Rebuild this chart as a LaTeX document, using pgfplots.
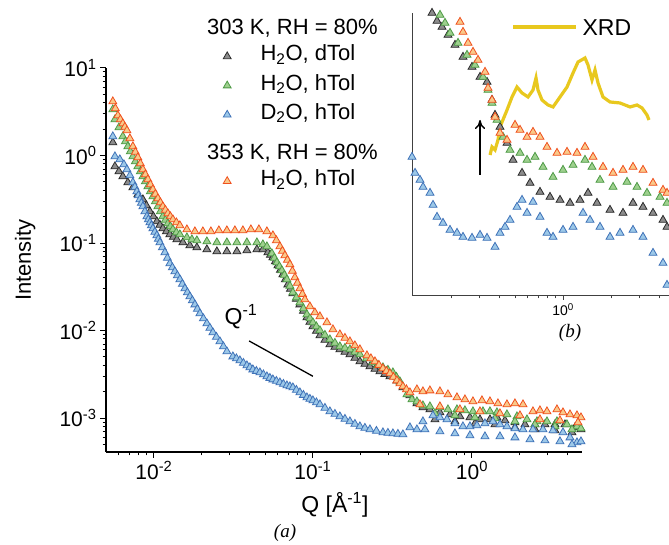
\documentclass[border=0pt]{standalone}
\usepackage{fontspec}
\setmainfont{Liberation Sans}
\newfontfamily\timesfont{Liberation Serif}
\usepackage{pgfplots}
\pgfplotsset{compat=1.18}
\usetikzlibrary{arrows.meta}
\definecolor{blackedge}{HTML}{2B2B2B}
\definecolor{blackfill}{HTML}{8C8C8C}
\definecolor{greenedge}{HTML}{4E9A46}
\definecolor{greenfill}{HTML}{9ED08E}
\definecolor{blueedge}{HTML}{3F72B8}
\definecolor{bluefill}{HTML}{9CC8E8}
\definecolor{orangeedge}{HTML}{F0501E}
\definecolor{orangefill}{HTML}{F9C98A}
\definecolor{xrd}{HTML}{E8C81E}
\pgfplotsset{
  blk/.style={only marks, mark=triangle*, mark size=4.6pt, mark options={draw=blackedge, fill=blackfill, line width=0.8pt}},
  grn/.style={only marks, mark=triangle*, mark size=4.6pt, mark options={draw=greenedge, fill=greenfill, line width=0.8pt}},
  blu/.style={only marks, mark=triangle*, mark size=4.6pt, mark options={draw=blueedge, fill=bluefill, line width=0.8pt}},
  org/.style={only marks, mark=triangle*, mark size=4.6pt, mark options={draw=orangeedge, fill=orangefill, line width=0.8pt}},
}
\begin{document}
\begin{tikzpicture}
\useasboundingbox (0,0) rectangle (669pt,545pt);
\begin{axis}[
  at={(106pt,93pt)}, anchor=south west, scale only axis,
  width=476pt, height=384pt,
  xmode=log, ymode=log,
  xmin=0.005, xmax=4.92, ymin=4.09e-4, ymax=10,
  axis x line*=bottom, axis y line*=left,
  axis line style={-, line width=1.2pt},
  tick align=outside, major tick length=6pt, minor tick length=3.5pt,
  tick style={line width=1pt, black},
  xtick={0.01,0.1,1},
  xticklabels={10\textsuperscript{-2},10\textsuperscript{-1},10\textsuperscript{0}},
  minor xtick={0.006,0.007,0.008,0.009,0.02,0.03,0.04,0.05,0.06,0.07,0.08,0.09,0.2,0.3,0.4,0.5,0.6,0.7,0.8,0.9,2,3,4},
  ytick={0.001,0.01,0.1,1,10},
  yticklabels={10\textsuperscript{-3},10\textsuperscript{-2},10\textsuperscript{-1},10\textsuperscript{0},10\textsuperscript{1}},
  minor ytick={5e-4,6e-4,7e-4,8e-4,9e-4,0.002,0.003,0.004,0.005,0.006,0.007,0.008,0.009,0.02,0.03,0.04,0.05,0.06,0.07,0.08,0.09,0.2,0.3,0.4,0.5,0.6,0.7,0.8,0.9,2,3,4,5,6,7,8,9},
  tick label style={font=\fontsize{21}{25}\selectfont},
  xlabel={Q [Å\textsuperscript{-1}]}, ylabel={Intensity},
  xlabel style={at={(axis description cs:0.481,-0.138)}, anchor=center, font=\fontsize{23}{27}\selectfont},
  ylabel style={at={(axis description cs:-0.170,0.5)}, anchor=center, font=\fontsize{22}{26}\selectfont},
  clip=false,
  legend cell align=left,
  legend style={draw=none, fill=none, inner sep=0pt, at={(0.2363,1.1419)}, anchor=north west,
    font=\fontsize{22}{26}\selectfont, column sep=27.5pt, row sep=2.2pt,
    nodes={inner sep=2pt, text height=16pt, text depth=7pt}},
]
\addlegendimage{empty legend}
\addlegendentry{}
\addlegendimage{only marks, mark=triangle*, mark size=4.5pt, mark options={draw=blackedge, fill=blackfill, line width=0.8pt}}
\addlegendentry{H\textsubscript{2}O, dTol}
\addlegendimage{only marks, mark=triangle*, mark size=4.5pt, mark options={draw=greenedge, fill=greenfill, line width=0.8pt}}
\addlegendentry{H\textsubscript{2}O, hTol}
\addlegendimage{only marks, mark=triangle*, mark size=4.5pt, mark options={draw=blueedge, fill=bluefill, line width=0.8pt}}
\addlegendentry{D\textsubscript{2}O, hTol}
\addlegendimage{empty legend}
\addlegendentry[text depth=15pt]{}
\addlegendimage{only marks, mark=triangle*, mark size=4.5pt, mark options={draw=orangeedge, fill=orangefill, line width=0.8pt}}
\addlegendentry{H\textsubscript{2}O, hTol}

% 303 K, H2O, dTol
\addplot[blk, forget plot] coordinates {
(0.00552,1.408) (0.00569,0.749) (0.00603,0.6566) (0.00638,0.575) (0.00686,0.4914)
(0.00738,0.4309) (0.00793,0.3584) (0.00853,0.3141) (0.008971,0.2683) (0.00944,0.2291)
(0.009929,0.2009) (0.01044,0.1761) (0.01091,0.1606) (0.01139,0.1464) (0.011984,0.1353)
(0.0126,0.1251) (0.013265,0.1171) (0.01395,0.1096) (0.01522,0.1013) (0.01684,0.0936)
(0.01864,0.0888) (0.02154,0.0843) (0.0249,0.0800) (0.02878,0.0800) (0.03327,0.0800)
(0.03846,0.0821) (0.04444,0.0843) (0.04848,0.0843) (0.05212,0.0779) (0.05404,0.0729)
(0.05603,0.0683) (0.05809,0.0615) (0.06025,0.0553) (0.06246,0.0491) (0.06476,0.0437)
(0.06714,0.0383) (0.06963,0.0335) (0.07221,0.0298) (0.07485,0.0265) (0.07874,0.0229)
(0.08283,0.0198) (0.08716,0.0167) (0.09168,0.01408) (0.09575,0.01251) (0.1,0.0111)
(0.1052,0.00987) (0.1107,0.00877) (0.1190,0.00779) (0.1279,0.00692) (0.1375,0.00648)
(0.1478,0.00607) (0.1590,0.00568) (0.1709,0.00532) (0.1837,0.00485) (0.1975,0.00442)
(0.2123,0.00414) (0.2283,0.00388) (0.2455,0.00363) (0.2638,0.00340) (0.2836,0.00318)
(0.3049,0.00298) (0.3375,0.00268) (0.3681,0.00223) (0.4074,0.00181) (0.4508,0.001464)
(0.4918,0.001318) (0.5442,0.001251) (0.6290,0.001156) (0.7272,0.001096) (0.8404,0.001040)
(0.9714,0.001013) (1.123,0.000961) (1.298,0.000961) (1.436,0.001013) (1.613,0.000936)
(1.864,0.000888) (2.154,0.000843) (2.490,0.000843) (2.878,0.000843) (3.327,0.000843)
(3.846,0.000843) (4.444,0.000779) (4.848,0.000739)
(0.5852,0.000961) (0.7818,0.000912) (1.0444,0.000865) (1.395,0.000843) (1.864,0.000779)
(2.490,0.000739) (3.327,0.000720) (4.256,0.000683)
};
% 303 K, H2O, hTol
\addplot[grn, forget plot] coordinates {
(0.00552,3.355) (0.00569,2.579) (0.00603,2.089) (0.00638,1.649) (0.00662,1.445)
(0.00686,1.267) (0.007115,1.111) (0.00738,0.974) (0.007647,0.854) (0.00793,0.749)
(0.008225,0.6566) (0.00853,0.575) (0.008842,0.5044) (0.00917,0.442) (0.009506,0.3878)
(0.00986,0.340) (0.010219,0.2981) (0.0106,0.2613) (0.010987,0.2291) (0.01139,0.2009)
(0.011812,0.1832) (0.01225,0.1670) (0.012699,0.1544) (0.01317,0.1427) (0.013852,0.1318)
(0.01457,0.1251) (0.01613,0.1156) (0.01734,0.1096) (0.01864,0.1068) (0.02154,0.1040)
(0.0249,0.1013) (0.02878,0.1013) (0.03327,0.1013) (0.03846,0.1013) (0.04444,0.1013)
(0.04848,0.0961) (0.05137,0.0912) (0.05522,0.0759) (0.05727,0.0674) (0.05937,0.0599)
(0.06156,0.0539) (0.06383,0.0485) (0.0662,0.0431) (0.06863,0.0383) (0.07168,0.0323)
(0.07485,0.0272) (0.07874,0.0238) (0.08283,0.0209) (0.08716,0.01784) (0.09168,0.01524)
(0.09575,0.01371) (0.1,0.01234) (0.1052,0.0111) (0.1107,0.0100) (0.1190,0.00888)
(0.1279,0.00789) (0.1375,0.00720) (0.1478,0.00656) (0.1590,0.00631) (0.1709,0.00607)
(0.1837,0.00568) (0.1975,0.00532) (0.2171,0.00479) (0.2385,0.00431) (0.2563,0.00403)
(0.2756,0.00378) (0.2962,0.00354) (0.3185,0.00331) (0.3351,0.00294) (0.3525,0.00261)
(0.3902,0.001856) (0.4195,0.001627) (0.4508,0.001544) (0.4918,0.001389) (0.5442,0.001353)
(0.6290,0.001318) (0.7065,0.001251) (0.8049,0.001251) (0.9036,0.001218) (1.0146,0.001187)
(1.173,0.001187) (1.298,0.001187) (1.436,0.001156) (1.660,0.001096) (1.919,0.001040)
(2.218,0.000961) (2.563,0.000912) (2.963,0.000912) (3.424,0.000912) (3.958,0.000843)
(4.575,0.000800) (4.848,0.000759)
(0.5852,0.001126) (0.7818,0.001068) (1.0444,0.001013) (1.395,0.000987) (1.864,0.000912)
(2.490,0.000843) (3.327,0.000800) (4.256,0.000739)
};
% 303 K, D2O, hTol
\addplot[blu, forget plot] coordinates {
(0.00552,1.649) (0.00569,0.974) (0.00611,0.900) (0.00648,0.789) (0.00677,0.692)
(0.00707,0.591) (0.00738,0.4914) (0.007595,0.4365) (0.00782,0.388) (0.007989,0.3490)
(0.00816,0.3141) (0.008345,0.2866) (0.00853,0.2613) (0.008779,0.2291) (0.00904,0.2009)
(0.009235,0.1856) (0.00944,0.1715) (0.009645,0.1585) (0.00986,0.1464) (0.010146,0.1336)
(0.01044,0.1219) (0.010673,0.1111) (0.01091,0.1013) (0.01131,0.0888) (0.01173,0.0779)
(0.01216,0.0674) (0.0126,0.0583) (0.013077,0.0525) (0.01355,0.0472) (0.01405,0.0425)
(0.01457,0.0383) (0.01511,0.0340) (0.01567,0.0302) (0.016245,0.0272) (0.01684,0.02446)
(0.01746,0.02203) (0.01811,0.0198) (0.01877,0.01760) (0.01947,0.01564) (0.02048,0.01371)
(0.02154,0.01202) (0.0225,0.01068) (0.0235,0.00949) (0.02472,0.00843) (0.02601,0.00749)
(0.02736,0.00656) (0.02878,0.00575) (0.0314,0.00504) (0.03303,0.00479) (0.03475,0.00454)
(0.03655,0.00425) (0.03846,0.00398) (0.04016,0.00378) (0.04193,0.00358) (0.04412,0.00344)
(0.04642,0.00331) (0.04884,0.00314) (0.05137,0.00298) (0.05365,0.00286) (0.05603,0.00275)
(0.05893,0.002647) (0.06201,0.002544) (0.06523,0.002446) (0.06863,0.002351) (0.07168,0.00229)
(0.07485,0.00223) (0.07874,0.00209) (0.08283,0.001956) (0.08716,0.00183) (0.09168,0.001715)
(0.09575,0.00165) (0.1,0.001585) (0.1052,0.001504) (0.1107,0.001427) (0.1190,0.001301)
(0.1279,0.001187) (0.1375,0.001111) (0.1478,0.001040) (0.1590,0.000974) (0.1709,0.000912)
(0.1837,0.000854) (0.1975,0.000800) (0.2123,0.000769) (0.2283,0.000739) (0.2508,0.000710)
(0.2756,0.000683) (0.2962,0.000674) (0.3185,0.000665) (0.3424,0.000656) (0.3681,0.000648)
(0.4074,0.000779) (0.4508,0.000739) (0.4918,0.000912) (0.5684,0.001068) (0.6290,0.001013)
(0.6963,0.000961) (0.7818,0.000865) (0.8777,0.000800) (0.9714,0.000800) (1.075,0.000821)
(1.207,0.000865) (1.355,0.000912) (1.500,0.000843) (1.660,0.000800) (1.864,0.000759)
(2.094,0.000739) (2.419,0.000739) (2.796,0.000739) (3.232,0.000720) (3.736,0.000683)
(4.135,0.000598) (4.575,0.000525) (4.848,0.000539)
(0.5062,0.000739) (0.6290,0.000701) (0.7818,0.000665) (0.9714,0.000631) (1.207,0.000615)
(1.500,0.000615) (1.864,0.000598) (2.317,0.000568) (2.878,0.000553) (3.577,0.000539)
(4.256,0.000498)
};
% 353 K, H2O, hTol
\addplot[org, forget plot] coordinates {
(0.00552,4.14) (0.005727,3.444) (0.00594,2.865) (0.006156,2.579) (0.00638,2.321)
(0.006571,2.117) (0.00677,1.931) (0.007066,1.564) (0.00738,1.267) (0.007647,1.096)
(0.00793,0.949) (0.008225,0.810) (0.00853,0.692) (0.008842,0.6065) (0.00917,0.532)
(0.009506,0.4662) (0.00986,0.409) (0.010219,0.3631) (0.0106,0.3226) (0.010987,0.2904)
(0.01139,0.2613) (0.011812,0.2383) (0.01225,0.2173) (0.012699,0.2009) (0.01317,0.1856)
(0.013852,0.1715) (0.01457,0.1585) (0.01613,0.1427) (0.01811,0.1353) (0.02033,0.1353)
(0.02283,0.1353) (0.02563,0.1389) (0.02878,0.1389) (0.03232,0.1389) (0.03629,0.1389)
(0.04074,0.1427) (0.04575,0.1427) (0.05137,0.1353) (0.05603,0.1219) (0.05893,0.1068)
(0.06201,0.0912) (0.0643,0.0810) (0.06667,0.0720) (0.06913,0.0639) (0.07168,0.0568)
(0.07431,0.0479) (0.07706,0.0403) (0.07989,0.0349) (0.08283,0.0302) (0.0859,0.0261)
(0.08905,0.0226) (0.09575,0.0188) (0.1029,0.01605) (0.1107,0.01445) (0.1225,0.01234)
(0.1336,0.01027) (0.1478,0.00900) (0.1590,0.00821) (0.1709,0.00749) (0.1837,0.00674)
(0.1975,0.00607) (0.2186,0.00518) (0.2316,0.00479) (0.2455,0.00442) (0.2601,0.00403)
(0.2756,0.00368) (0.2900,0.00344) (0.3049,0.00323) (0.3208,0.00294) (0.3375,0.00268)
(0.3525,0.00248) (0.3681,0.00229) (0.3873,0.002117) (0.4074,0.001956) (0.4508,0.002117)
(0.4918,0.002009) (0.5442,0.00206) (0.6290,0.002009) (0.7065,0.001856) (0.8049,0.001715)
(0.9036,0.001627) (1.0146,0.001544) (1.156,0.001585) (1.298,0.001544) (1.457,0.001464)
(1.660,0.001427) (1.864,0.001464) (2.094,0.001427) (2.419,0.001187) (2.677,0.001218)
(2.963,0.001187) (3.424,0.001251) (3.736,0.001156) (4.135,0.001096) (4.575,0.001068)
(4.848,0.001013)
(0.4710,0.001427) (0.6290,0.001353) (0.8404,0.001251) (1.123,0.001187) (1.500,0.001126)
(2.004,0.001068) (2.677,0.000961) (3.577,0.000936) (4.642,0.000888)
};
% Q^-1 guide
\addplot[black, line width=1.3pt, no marks, forget plot] coordinates {(0.0397,7.6e-3) (0.1,3.0e-3)};
\node[font=\fontsize{23}{27}\selectfont] at (axis cs:0.0353,0.0145) {Q\textsuperscript{-1}};
\end{axis}

% legend group titles
\node[anchor=base west, font=\fontsize{22}{26}\selectfont, inner sep=0pt] at (207pt,510pt) {303 K, RH = 80\%};
\node[anchor=base west, font=\fontsize{22}{26}\selectfont, inner sep=0pt] at (207pt,385pt) {353 K, RH = 80\%};

% inset (b)
\begin{axis}[
  at={(412pt,250pt)}, anchor=south west, scale only axis,
  width=257pt, height=282pt,
  xmode=log, ymode=log,
  xmin=0.1138, xmax=4.597, ymin=1, ymax=25.7,
  axis x line*=bottom, axis y line*=left,
  axis line style={-, draw=black!75, line width=0.8pt},
  axis background/.style={fill=white},
  ytick=\empty,
  xtick={1}, xticklabels={10\textsuperscript{0}},
  minor xtick={0.2,0.3,0.4,0.5,0.6,0.7,0.8,0.9,2,3,4},
  tick align=outside, major tick length=5pt, minor tick length=3.5pt,
  tick style={line width=0.6pt, black!75},
  tick label style={font=\fontsize{14}{16}\selectfont},
  clip=false,
]
\addplot[xrd, line width=3.2pt, no marks] coordinates {
(0.3499,5.012) (0.3599,5.495) (0.3758,5.309) (0.3924,5.957) (0.4038,6.918)
(0.4467,8.414) (0.4800,9.772) (0.5158,10.96) (0.5545,10.23) (0.6043,9.772)
(0.6494,10.59) (0.6780,12.16) (0.6977,10.59) (0.7392,9.441) (0.8058,8.913)
(0.8660,8.710) (0.9578,9.772) (1.0593,10.96) (1.155,12.88) (1.241,14.62)
(1.372,15.31) (1.433,14.13) (1.518,11.89) (1.585,13.34) (1.655,11.48)
(1.778,9.772) (1.967,9.226) (2.271,9.120) (2.623,8.710) (2.900,8.913)
(3.118,8.610) (3.350,7.943) (3.447,7.499)
};
\addplot[blk, mark size=4.6pt] coordinates {
(0.1518,25.70) (0.1631,23.44) (0.1753,21.88) (0.1911,19.95) (0.2113,17.78)
(0.2371,15.49) (0.2699,13.80) (0.3029,12.30) (0.3350,11.61) (0.3599,9.441)
(0.3758,7.943) (0.4038,6.918) (0.4467,5.754) (0.4870,4.732) (0.5545,4.074)
(0.6219,3.631) (0.7181,3.273) (0.8293,3.090) (0.9578,2.985) (1.106,2.884)
(1.277,2.985) (1.433,3.236) (1.631,2.884) (1.967,2.661) (2.371,2.570)
(2.738,2.884) (3.162,2.754) (3.652,2.570) (4.217,2.371) (4.467,2.188)
};
\addplot[grn, mark size=4.6pt] coordinates {
(0.1703,25.12) (0.1830,22.91) (0.1967,20.42) (0.2207,18.20) (0.2512,15.85)
(0.2818,14.13) (0.3162,12.30) (0.3398,10.59) (0.3599,9.120) (0.3868,7.499)
(0.4217,6.166) (0.4665,5.309) (0.5387,5.129) (0.5957,4.732) (0.6683,4.898)
(0.7499,4.365) (0.8660,3.890) (1,4.217) (1.155,4.467) (1.372,4.732)
(1.518,4.365) (1.703,3.758) (2.054,3.467) (2.512,3.673) (2.900,3.467)
(3.350,3.236) (4.039,3.090) (4.467,2.884)
};
\addplot[blu, mark size=4.6pt] coordinates {
(0.1138,4.898) (0.1189,4.074) (0.1277,3.758) (0.1334,3.467) (0.1475,3.236)
(0.1540,2.818) (0.1631,2.455) (0.1778,2.291) (0.1967,2.113) (0.2175,2.042)
(0.2371,1.950) (0.2699,1.928) (0.3029,1.995) (0.3350,1.928) (0.3758,1.738)
(0.4038,2.042) (0.4341,2.188) (0.4665,2.371) (0.5158,2.754) (0.5545,2.985)
(0.5957,2.570) (0.6494,2.917) (0.7181,2.455) (0.7943,2.042) (0.8660,1.950)
(1,2.113) (1.155,2.188) (1.334,2.570) (1.475,2.371) (1.703,2.188)
(1.967,1.950) (2.271,2.042) (2.738,2.113) (3.162,1.950) (3.652,1.622)
(4.217,1.445) (4.467,1.122)
};
\addplot[org, mark size=4.6pt] coordinates {
(0.2271,23.17) (0.2371,20.65) (0.2548,18.20) (0.2738,16.41) (0.2943,14.96)
(0.3255,13.03) (0.3398,10.84) (0.3599,9.441) (0.3758,7.762) (0.4038,6.457)
(0.4467,5.957) (0.5012,7.079) (0.5387,6.683) (0.5957,6.166) (0.6494,6.531)
(0.7181,6.166) (0.7943,5.495) (0.9173,5.129) (1.0593,5.188) (1.223,5.129)
(1.372,5.495) (1.540,4.898) (1.778,4.365) (2.054,4.074) (2.371,4.217)
(2.738,4.365) (3.162,4.217) (3.652,3.631) (4.217,3.350) (4.467,3.236)
};
\draw[-{To[length=9pt,width=10pt]}, line width=1.4pt] (axis cs:0.3029,3.981) -- (axis cs:0.3029,7.499);
\draw[xrd, line width=3.2pt] (rel axis cs:0.393,0.95) -- (rel axis cs:0.638,0.95);
\node[anchor=west, font=\fontsize{23}{27}\selectfont] at (rel axis cs:0.65,0.95) {XRD};
\end{axis}
\node[font=\timesfont\itshape\fontsize{19}{22}\selectfont] at (285pt,12pt) {(a)};
\node[font=\timesfont\itshape\fontsize{19}{22}\selectfont] at (570pt,212pt) {(b)};
\end{tikzpicture}
\end{document}
